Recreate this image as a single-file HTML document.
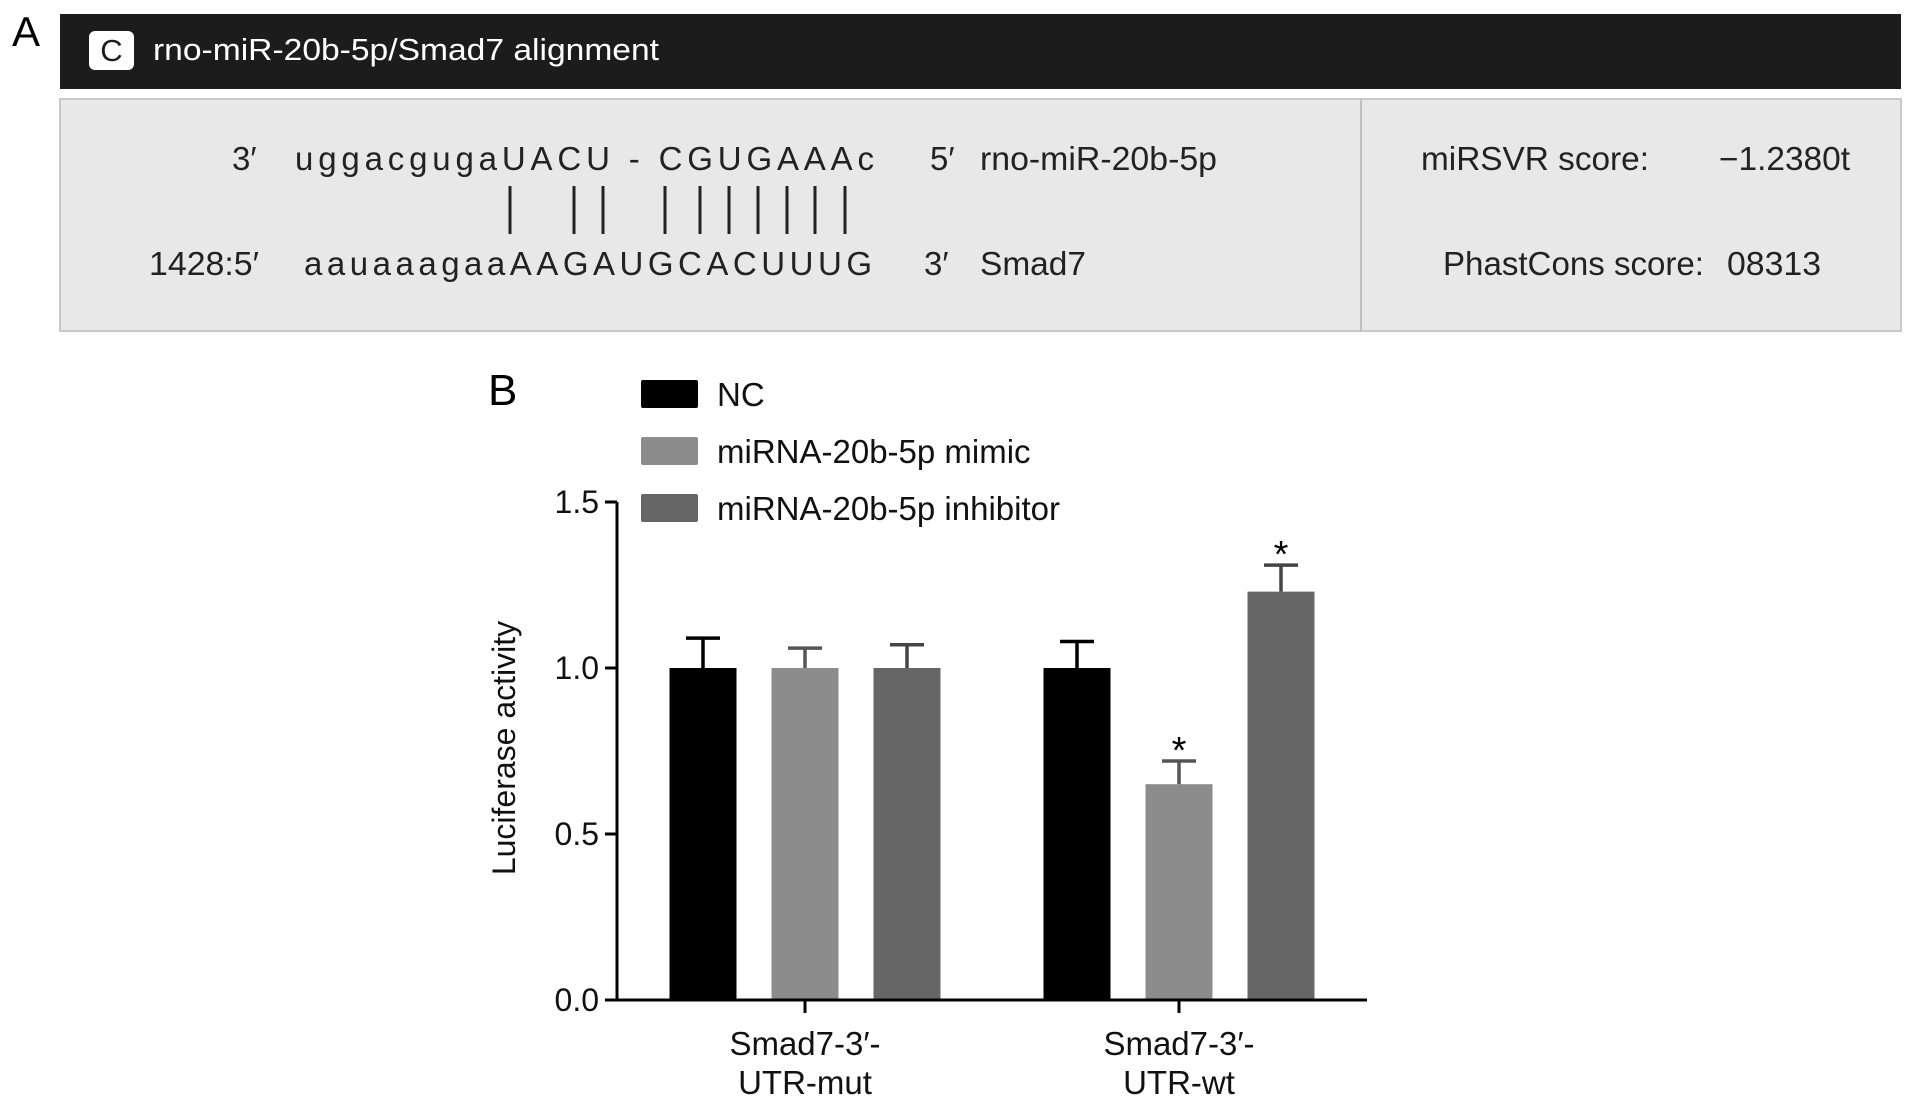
<!DOCTYPE html>
<html><head><meta charset="utf-8"><style>
html,body{margin:0;padding:0;background:#fff;}
svg{display:block;font-family:"Liberation Sans",Arial,sans-serif;}
</style></head><body>
<svg width="1913" height="1106" viewBox="0 0 1913 1106">
<g>
<text x="12" y="46" font-size="42">A</text>
<rect x="60" y="14" width="1841" height="75" fill="#1c1c1c"/>
<rect x="89" y="31" width="45" height="39" rx="6" fill="#fff"/>
<text x="111.5" y="61" font-size="31" text-anchor="middle" fill="#1c1c1c">C</text>
<text x="153" y="60" font-size="31" fill="#fff" textLength="506" lengthAdjust="spacingAndGlyphs">rno-miR-20b-5p/Smad7 alignment</text>
<rect x="60" y="99" width="1841" height="232" fill="#e8e8e8" stroke="#c8c8c8" stroke-width="2"/>
<line x1="1361" y1="99" x2="1361" y2="331" stroke="#c0c0c0" stroke-width="2"/>
<g font-size="33" fill="#222">
<text x="232" y="170">3′</text>
<text x="295" y="170" textLength="579" lengthAdjust="spacing">uggacgugaUACU - CGUGAAAc</text>
<text x="930" y="170">5′</text>
<text x="980" y="170" textLength="237" lengthAdjust="spacingAndGlyphs">rno-miR-20b-5p</text>
<text x="149" y="275" textLength="110" lengthAdjust="spacingAndGlyphs">1428:5′</text>
<text x="304" y="275" textLength="568" lengthAdjust="spacing">aauaaagaaAAGAUGCACUUUG</text>
<text x="924" y="275">3′</text>
<text x="980" y="275" textLength="106" lengthAdjust="spacingAndGlyphs">Smad7</text>
<text x="1421" y="170" textLength="228" lengthAdjust="spacingAndGlyphs">miRSVR score:</text>
<text x="1719" y="170" textLength="131" lengthAdjust="spacingAndGlyphs">−1.2380t</text>
<text x="1443" y="275" textLength="261" lengthAdjust="spacingAndGlyphs">PhastCons score:</text>
<text x="1727" y="275" textLength="94" lengthAdjust="spacingAndGlyphs">08313</text>
</g>
<g id="pairs" stroke="#222" stroke-width="3"></g>
</g>
<g id="chart">
<text x="488" y="405" font-size="44">B</text>
</g>
</svg>
<script>
const pairX=[510,574,603,665,700,729,758,787,815,845];
const pg=document.getElementById('pairs');
const NS='http://www.w3.org/2000/svg';
pairX.forEach(x=>{const l=document.createElementNS(NS,'line');
l.setAttribute('x1',x);l.setAttribute('x2',x);l.setAttribute('y1',186);l.setAttribute('y2',234);


pg.appendChild(l);});

const groups=["Smad7-3′-|UTR-mut","Smad7-3′-|UTR-wt"];
const seriesNames=["NC","miRNA-20b-5p mimic","miRNA-20b-5p inhibitor"];
const seriesColors=["#000000","#8c8c8c","#666666"];
const ncValues=[1.0,1.0];
const mimicValues=[1.0,0.65];
const inhibitorValues=[1.0,1.23];
const ncErr=[0.09,0.08];
const mimicErr=[0.06,0.07];
const inhibitorErr=[0.07,0.08];
const stars=[[false,false,false],[false,true,true]];
const yTicks=[0.0,0.5,1.0,1.5];
const yTickLabels=["0.0","0.5","1.0","1.5"];

const X0=617,X1=1367,Y0=1000,Ytop=502;
const y=v=>Y0-(v/1.5)*(Y0-Ytop);
const groupCenter=[805,1179];
const barW=67, barStep=102;
const g=document.getElementById('chart');
function mk(t,a){const e=document.createElementNS(NS,t);for(const k in a)e.setAttribute(k,a[k]);g.appendChild(e);return e;}
const vals=[ncValues,mimicValues,inhibitorValues], errs=[ncErr,mimicErr,inhibitorErr];
const errColors=["#000","#555","#444"];
groups.forEach((gn,gi)=>{
  vals.forEach((sv,si)=>{
    const cx=groupCenter[gi]+(si-1)*barStep;
    const v=sv[gi], top=y(v), et=y(v+errs[si][gi]);
    const b=mk('rect',{x:cx-barW/2,y:top,width:barW,height:Y0-top,fill:seriesColors[si]});
    
    
    const e1=mk('line',{x1:cx,x2:cx,y1:top,y2:et,stroke:errColors[si],'stroke-width':3.5});
    
    
    const e2=mk('line',{x1:cx-17,x2:cx+17,y1:et,y2:et,stroke:errColors[si],'stroke-width':3.5});
    
    
    if(stars[gi][si]){const s=mk('text',{x:cx,y:et+2,'font-size':38,'text-anchor':'middle'});s.textContent='*';
      
      }
  });
  const t=mk('line',{x1:groupCenter[gi],x2:groupCenter[gi],y1:Y0,y2:Y0+13,stroke:'#000','stroke-width':3});
  
  
  gn.split('|').forEach((ln,li)=>{const tx=mk('text',{x:groupCenter[gi],y:1055+li*39,'font-size':33,'text-anchor':'middle',fill:'#111'});tx.textContent=ln;
    
    });
});
const ya=mk('line',{x1:X0,x2:X0,y1:Ytop,y2:Y0+1.5,stroke:'#000','stroke-width':3});


const xa=mk('line',{x1:X0,x2:X1,y1:Y0,y2:Y0,stroke:'#000','stroke-width':3});


yTicks.forEach((v,i)=>{
  const t=mk('line',{x1:X0-12,x2:X0,y1:y(v),y2:y(v),stroke:'#000','stroke-width':3});
  
  
  const l=mk('text',{x:X0-18,y:y(v)+11,'font-size':32,'text-anchor':'end',fill:'#111'});l.textContent=yTickLabels[i];
  
  
});
const yt=mk('text',{x:0,y:0,'font-size':32,'text-anchor':'middle',fill:'#111',transform:'translate(515,748) rotate(-90)'});
yt.textContent='Luciferase activity';


seriesNames.forEach((n,i)=>{
  const sy=380+i*57;
  const r=mk('rect',{x:641,y:sy,width:57,height:28,rx:2,fill:seriesColors[i]});
  
  
  const t=mk('text',{x:717,y:sy+26,'font-size':33,fill:'#111'});t.textContent=n;
  
  
});
</script>
</body></html>
